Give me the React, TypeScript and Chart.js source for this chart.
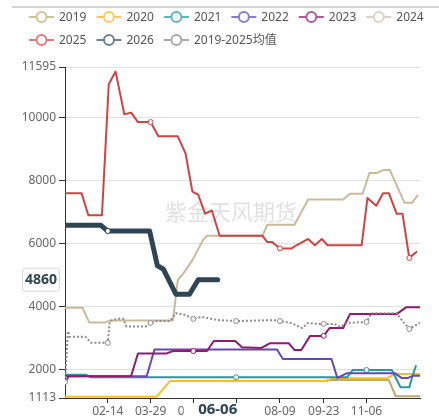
import React, { useEffect, useRef } from "react";
import { Chart, registerables } from "chart.js";
Chart.register(...registerables);

// ---------- data ----------
const seriesNames = ["2019", "2020", "2021", "2022", "2023", "2024", "2025", "2026", "2019-2025均值"];
const lineColors = ["#b9a873", "#f9c021", "#26999e", "#6248b8", "#8e1b6f", "#cbb99e", "#d14343", "#2f4554", "#8c8c8c"];
const legendColors = ["#cfc39a", "#fbcc4f", "#5fb5b9", "#8a7cd0", "#aa5b9c", "#ddd2c6", "#e07b7b", "#6f8290", "#a8a8a8"];

const xTickDates = ["02-14", "03-29", "05-12", "06-25", "08-09", "09-23", "11-06"];
const yTickValues = [1113, 2000, 4000, 6000, 8000, 10000, 11595];
const pointerDate = "06-06";
const pointerValue = 4860;
const watermark = "紫金天风期货";

type P = [string, number];
const s2019: P[] = [["09-26", 1680], ["11-29", 1680], ["12-06", 1170], ["12-31", 1170]];
const s2020: P[] = [["01-01", 1150], ["04-04", 1150], ["04-18", 1650], ["09-26", 1650], ["10-02", 1740], ["11-27", 1740], ["12-05", 1870], ["12-31", 1870]];
const s2021: P[] = [["01-01", 1850], ["01-22", 1850], ["01-28", 1770], ["06-25", 1770], ["10-17", 1770], ["10-23", 2000], ["11-06", 2000], ["12-02", 2000], ["12-07", 1700], ["12-11", 1450], ["12-20", 1450], ["12-23", 1780], ["12-27", 2150]];
const s2022: P[] = [["01-01", 1600], ["01-05", 1800], ["03-25", 1800], ["04-02", 2650], ["08-06", 2650], ["08-12", 2350], ["10-01", 2350], ["10-07", 1750], ["10-17", 1900], ["12-05", 1900], ["12-12", 1750], ["12-19", 1750], ["12-24", 1820], ["12-31", 1820]];
const s2023: P[] = [["01-01", 1800], ["03-09", 1810], ["03-16", 2520], ["04-14", 2520], ["04-21", 2600], ["05-12", 2600], ["05-26", 2600], ["06-02", 2920], ["06-24", 2920], ["07-01", 2720], ["07-21", 2700], ["07-30", 2850], ["08-18", 2850], ["08-24", 2630], ["08-31", 2630], ["09-09", 3080], ["09-23", 3080], ["09-29", 3330], ["10-13", 3330], ["10-20", 3770], ["12-07", 3770], ["12-17", 3990], ["12-31", 3990]];
const s2024: P[] = [["01-01", 3970], ["01-19", 3970], ["01-26", 3500], ["02-11", 3500], ["02-16", 3570], ["04-21", 3570], ["04-26", 4850], ["05-02", 5070], ["05-11", 5480], ["05-22", 6120], ["05-26", 6250], ["07-22", 6250], ["07-27", 6600], ["08-24", 6600], ["09-07", 7400], ["10-13", 7400], ["10-20", 7580], ["11-02", 7580], ["11-09", 8240], ["11-17", 8240], ["11-23", 8330], ["11-30", 8330], ["12-15", 7300], ["12-23", 7300], ["12-29", 7550]];
const s2025: P[] = [["01-01", 7600], ["01-18", 7600], ["01-25", 6900], ["02-08", 6900], ["02-15", 11050], ["02-22", 11450], ["03-02", 10100], ["03-09", 10150], ["03-16", 9850], ["03-29", 9850], ["04-06", 9400], ["04-26", 9400], ["05-04", 8850], ["05-11", 7650], ["05-17", 7550], ["05-24", 6950], ["05-31", 7050], ["06-08", 6250], ["07-22", 6250], ["07-27", 6050], ["08-01", 6050], ["08-09", 5850], ["08-21", 5850], ["08-26", 5950], ["09-07", 6150], ["09-14", 5950], ["09-21", 6150], ["09-27", 5950], ["11-01", 5950], ["11-07", 7450], ["11-16", 7200], ["11-23", 7600], ["11-29", 7600], ["12-07", 6950], ["12-13", 6950], ["12-20", 5550], ["12-28", 5750]];
const s2026: P[] = [["01-01", 6580], ["02-07", 6580], ["02-14", 6400], ["03-28", 6400], ["04-05", 5300], ["04-11", 5200], ["04-24", 4400], ["05-08", 4400], ["05-17", 4860], ["06-06", 4860]];
const sAvg: P[] = [["01-01", 1620], ["01-04", 3230], ["01-06", 3050], ["01-22", 3050], ["01-28", 2860], ["02-14", 2860], ["02-16", 3550], ["02-24", 3620], ["03-01", 3620], ["03-04", 3380], ["03-24", 3380], ["03-29", 3490], ["04-04", 3550], ["04-18", 3550], ["04-24", 3800], ["05-03", 3750], ["05-12", 3620], ["05-21", 3680], ["06-06", 3580], ["06-25", 3550], ["08-02", 3580], ["08-09", 3550], ["08-20", 3490], ["09-01", 3330], ["09-07", 3490], ["09-17", 3460], ["09-23", 3460], ["10-04", 3460], ["10-10", 3360], ["10-17", 3490], ["11-06", 3520], ["11-11", 3800], ["12-07", 3800], ["12-13", 3550], ["12-20", 3300], ["12-31", 3490]];

const seriesData = [s2019, s2020, s2021, s2022, s2023, s2024, s2025, s2026, sAvg];
const markDates: string[][] = [[], [], ["06-25", "11-06"], [], ["05-12", "09-23"], [], ["03-29", "08-09", "12-20"], ["02-14"], ["01-01", "02-14", "03-29", "05-12", "06-25", "08-09", "09-23", "11-06", "12-20"]];

// ---------- helpers ----------
const monthStart = [0, 31, 60, 91, 121, 152, 182, 213, 244, 274, 305, 335];
const dayOf = (s: string) => monthStart[parseInt(s.slice(0, 2), 10) - 1] + parseInt(s.slice(3), 10) - 1;
const FONT = "'Noto Sans', 'Noto Sans CJK SC', sans-serif";

const overlayPlugin = {
  id: "overlay",
  beforeDatasetsDraw(chart: any) {
    const ctx = chart.ctx;
    ctx.save();
    ctx.font = `22px 'Noto Sans CJK SC', sans-serif`;
    ctx.fillStyle = "rgba(0,0,0,0.12)";
    ctx.textAlign = "left";
    ctx.textBaseline = "middle";
    ctx.fillText(watermark, 165, 212);
    ctx.restore();
  },
  afterDraw(chart: any) {
    const ctx = chart.ctx;
    ctx.save();
    // top border line
    ctx.strokeStyle = "#d4d4d4";
    ctx.lineWidth = 2;
    ctx.beginPath();
    ctx.moveTo(12, 7);
    ctx.lineTo(439, 7);
    ctx.stroke();

    // legend
    ctx.font = `12px ${FONT}`;
    ctx.textBaseline = "middle";
    ctx.textAlign = "left";
    let x = 29;
    let row = 0;
    seriesNames.forEach((name, i) => {
      if (i === 6) {
        row = 1;
        x = 29;
      }
      const y = row === 0 ? 17 : 40;
      const c = legendColors[i];
      ctx.strokeStyle = c;
      ctx.lineWidth = 2;
      ctx.beginPath();
      ctx.moveTo(x, y);
      ctx.lineTo(x + 25, y);
      ctx.stroke();
      ctx.beginPath();
      ctx.arc(x + 12.5, y, 5, 0, Math.PI * 2);
      ctx.fillStyle = "#fff";
      ctx.fill();
      ctx.stroke();
      ctx.fillStyle = "#555";
      ctx.fillText(name, x + 30, y + 0.5);
      x += 30 + ctx.measureText(name).width + 10;
    });

    // x pointer label
    const px = chart.scales.x.getPixelForValue(dayOf(pointerDate));
    ctx.fillStyle = "#fff";
    ctx.fillRect(px - 34, 403, 68, 14);
    ctx.font = `bold 15px ${FONT}`;
    ctx.fillStyle = "#2f4554";
    ctx.textAlign = "center";
    ctx.fillText(pointerDate, px, 410);

    // y pointer label
    const py = chart.scales.y.getPixelForValue(pointerValue);
    ctx.beginPath();
    (ctx as any).roundRect(22.5, py - 11.5, 37, 23, 3);
    ctx.fillStyle = "#fff";
    ctx.fill();
    ctx.strokeStyle = "#d8d8d8";
    ctx.lineWidth = 1;
    ctx.stroke();
    ctx.font = `bold 14px ${FONT}`;
    ctx.fillStyle = "#2f4554";
    ctx.fillText(String(pointerValue), 41, py + 0.5);
    ctx.restore();
  },
};

export default function App() {
  const ref = useRef<HTMLCanvasElement | null>(null);
  useEffect(() => {
    if (!ref.current) return;
    Chart.defaults.font.family = FONT;
    const n = seriesNames.length;
    const datasets = seriesData.map((arr, i) => {
      const marks = markDates[i];
      return {
        label: seriesNames[i],
        data: arr.map(([d, v]) => ({ x: dayOf(d), y: v })),
        borderColor: lineColors[i],
        backgroundColor: "#fff",
        borderWidth: i === 7 ? 5 : 2,
        borderDash: i === 8 ? [2, 2] : [],
        borderJoinStyle: "round",
        borderCapStyle: i === 7 ? "round" : "butt",
        pointRadius: arr.map(([d]) => (marks.includes(d) ? 2.5 : 0)),
        pointBorderWidth: 1,
        pointBorderColor: lineColors[i],
        pointBackgroundColor: "#fff",
        tension: 0,
        fill: false,
        order: n - i,
      };
    });
    const chart = new Chart(ref.current, {
      type: "line",
      data: { datasets } as any,
      options: {
        responsive: false,
        animation: false,
        layout: { padding: { top: 67, right: 19, left: 0, bottom: 0 } },
        plugins: { legend: { display: false }, tooltip: { enabled: false } },
        scales: {
          x: {
            type: "linear",
            min: 0,
            max: 365,
            afterBuildTicks: (s: any) => {
              s.ticks = xTickDates.map((d) => ({ value: dayOf(d) }));
            },
            afterFit: (s: any) => {
              s.height = 19;
            },
            grid: { drawOnChartArea: false, drawTicks: true, tickLength: 5, tickColor: "#333" },
            border: { color: "#333", width: 1 },
            ticks: {
              autoSkip: false,
              maxRotation: 0,
              padding: 1,
              color: "#666",
              font: { size: 12 },
              callback: (v: any) => {
                const f = xTickDates.find((d) => dayOf(d) === v);
                return f || "";
              },
            },
          },
          y: {
            type: "linear",
            min: 1113,
            max: 11595,
            afterBuildTicks: (s: any) => {
              s.ticks = yTickValues.map((v) => ({ value: v }));
            },
            afterFit: (s: any) => {
              s.width = 65;
            },
            grid: {
              color: (c: any) => (c.tick && c.tick.value === 1113 ? "rgba(0,0,0,0)" : "#e0e0e0"),
              tickColor: "#333",
              tickLength: 6,
            },
            border: { color: "#333", width: 1 },
            ticks: { autoSkip: false, padding: 3, color: "#666", font: { size: 12 }, callback: (v: any) => String(v) },
          },
        },
      } as any,
      plugins: [overlayPlugin],
    });
    return () => chart.destroy();
  }, []);
  return (
    <div style={{ position: "absolute", left: 0, top: 0, width: 439, height: 417, background: "#fff" }}>
      <canvas ref={ref} width={439} height={417} style={{ display: "block" }} />
    </div>
  );
}
